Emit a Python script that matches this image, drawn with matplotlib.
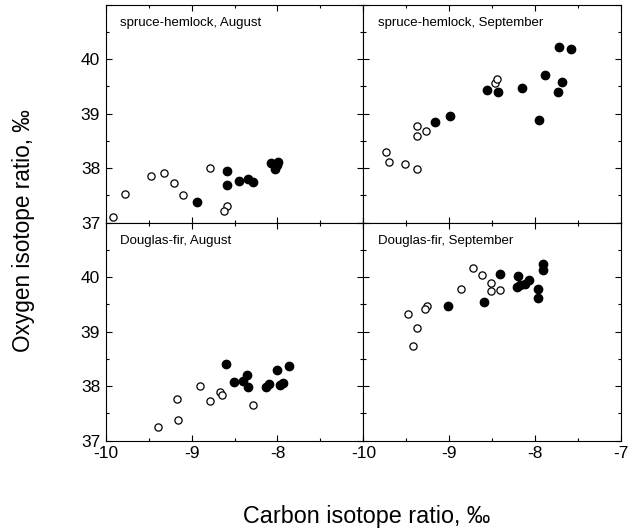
import matplotlib
matplotlib.use("Agg")
import matplotlib.pyplot as plt
from matplotlib.ticker import MultipleLocator, FixedLocator

plt.rcParams["font.family"] = ["Liberation Sans", "DejaVu Sans"]
plt.rcParams["axes.unicode_minus"] = False

# --- data (carbon, oxygen) ---
sh_aug_open_x = [-9.91, -9.78, -9.47, -9.32, -9.20, -9.10, -8.78, -8.59, -8.62]
sh_aug_open_y = [37.10, 37.53, 37.85, 37.92, 37.73, 37.50, 38.01, 37.31, 37.22]
sh_aug_fill_x = [-8.94, -8.59, -8.59, -8.45, -8.34, -8.29, -8.08, -7.99, -8.03, -8.01]
sh_aug_fill_y = [37.38, 37.94, 37.70, 37.77, 37.81, 37.74, 38.10, 38.11, 37.98, 38.05]

sh_sep_open_x = [-9.74, -9.70, -9.51, -9.37, -9.37, -9.37, -9.27, -8.47, -8.44]
sh_sep_open_y = [38.29, 38.12, 38.07, 37.98, 38.78, 38.59, 38.68, 39.56, 39.63]
sh_sep_fill_x = [-9.17, -8.99, -8.56, -8.43, -8.15, -7.96, -7.88, -7.72, -7.58, -7.69, -7.73]
sh_sep_fill_y = [38.85, 38.95, 39.44, 39.40, 39.47, 38.89, 39.72, 40.22, 40.18, 39.59, 39.39]

df_aug_open_x = [-9.39, -9.16, -9.17, -8.90, -8.79, -8.67, -8.65, -8.29]
df_aug_open_y = [37.25, 37.38, 37.76, 38.01, 37.73, 37.90, 37.83, 37.66]
df_aug_fill_x = [-8.60, -8.51, -8.40, -8.35, -8.34, -8.13, -8.10, -8.00, -7.97, -7.93, -7.86]
df_aug_fill_y = [38.40, 38.07, 38.09, 38.21, 37.99, 37.99, 38.04, 38.29, 38.03, 38.06, 38.37]

df_sep_open_x = [-8.72, -8.62, -8.86, -8.51, -8.51, -8.41, -9.26, -9.28, -9.48, -9.38, -9.42]
df_sep_open_y = [40.17, 40.04, 39.78, 39.89, 39.75, 39.76, 39.47, 39.41, 39.32, 39.06, 38.73]
df_sep_fill_x = [-9.02, -8.59, -8.41, -8.20, -8.21, -8.18, -8.12, -8.07, -7.97, -7.97, -7.91, -7.91]
df_sep_fill_y = [39.48, 39.54, 40.06, 40.03, 39.82, 39.86, 39.87, 39.95, 39.78, 39.61, 40.24, 40.13]

titles = ["spruce-hemlock, August", "spruce-hemlock, September",
          "Douglas-fir, August", "Douglas-fir, September"]
panels = [
    (sh_aug_open_x, sh_aug_open_y, sh_aug_fill_x, sh_aug_fill_y),
    (sh_sep_open_x, sh_sep_open_y, sh_sep_fill_x, sh_sep_fill_y),
    (df_aug_open_x, df_aug_open_y, df_aug_fill_x, df_aug_fill_y),
    (df_sep_open_x, df_sep_open_y, df_sep_fill_x, df_sep_fill_y),
]
x_ticks = [-10, -9, -8, -7]
y_ticks = [37, 38, 39, 40]

fig, axes = plt.subplots(2, 2, figsize=(6.34, 5.29), dpi=100)
fig.subplots_adjust(left=0.1667, right=0.9795, bottom=0.167, top=0.991,
                    wspace=0, hspace=0)

for i, ax in enumerate(axes.flat):
    ox, oy, fx, fy = panels[i]
    ax.plot(ox, oy, "o", ms=5.2, mfc="white", mec="black", mew=0.9, ls="none")
    ax.plot(fx, fy, "o", ms=6.0, mfc="black", mec="black", ls="none")

    ax.set_xlim(-10, -7)
    ax.set_ylim(37, 41)
    ax.xaxis.set_major_locator(FixedLocator(x_ticks))
    ax.yaxis.set_major_locator(FixedLocator(y_ticks + [41]))
    ax.xaxis.set_minor_locator(MultipleLocator(0.5))
    ax.yaxis.set_minor_locator(MultipleLocator(0.5))
    ax.tick_params(which="both", direction="in", top=True, right=True,
                   labelsize=12.5, width=0.8, pad=4)
    ax.tick_params(which="major", length=4)
    ax.tick_params(which="minor", length=2)

    row, col = divmod(i, 2)
    if row == 1:
        if col == 0:
            ax.set_xticklabels(["-10", "-9", "-8", ""])
        else:
            ax.set_xticklabels([str(t) for t in x_ticks])
    else:
        ax.set_xticklabels([])
    if col == 0:
        ax.set_yticklabels([str(t) for t in y_ticks] + [""])
    else:
        ax.set_yticklabels([])

    for sp in ax.spines.values():
        sp.set_linewidth(0.8)

    ax.text(0.055, 0.915, titles[i], transform=ax.transAxes,
            fontsize=9.5, ha="left", va="center")

fig.text(0.037, 0.565, "Oxygen isotope ratio, ‰", rotation=90,
         fontsize=16.3, ha="center", va="center")
fig.text(0.578, 0.023, "Carbon isotope ratio, ‰",
         fontsize=16.8, ha="center", va="center")

fig.savefig("out.png", dpi=100)
